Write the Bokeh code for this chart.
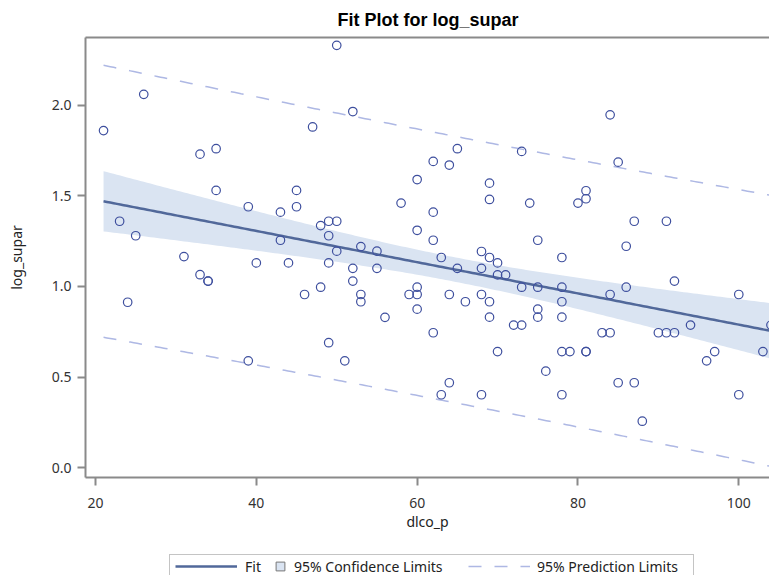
import numpy as np
from bokeh.plotting import figure
from bokeh.layouts import column
from bokeh.models import (ColumnDataSource, Range1d, FixedTicker, LinearAxis,
                          Legend, LegendItem, NumeralTickFormatter)
from bokeh.embed import file_html
from bokeh.resources import INLINE

# ---- data ----
dlco_p = [21, 26, 23, 25, 31, 33, 35, 35, 39, 43, 45, 45, 43, 47, 48, 49, 50, 49,
          33, 34, 34, 24, 40, 44, 49, 46, 48, 49, 39,
          50, 52, 65, 62, 64, 73, 60, 69, 69, 58, 74, 62, 60, 62, 75, 53, 55, 50,
          63, 68, 69, 70, 78, 84, 85, 81, 81, 80, 87, 91, 86,
          52, 55, 52, 53, 53, 56, 51, 65, 68, 70, 71, 73, 75, 78, 59, 60, 60, 60,
          64, 66, 68, 69, 69, 62, 72, 73, 75, 75, 78, 78, 70, 78, 79, 76, 64, 63,
          68, 78, 81, 81, 84, 86, 92, 83, 84, 90, 91, 92, 94, 100, 104, 103, 97,
          96, 85, 87, 88, 100]
log_supar = [1.86, 2.06, 1.36, 1.28, 1.165, 1.73, 1.76, 1.53, 1.44, 1.41, 1.53, 1.44,
             1.255, 1.88, 1.336, 1.36, 1.36, 1.28,
             1.065, 1.03, 1.03, 0.913, 1.13, 1.13, 1.13, 0.956, 0.996, 0.69, 0.59,
             2.33, 1.965, 1.76, 1.69, 1.67, 1.745, 1.59, 1.57, 1.48, 1.46, 1.46, 1.41,
             1.31, 1.255, 1.255, 1.22, 1.195, 1.195,
             1.16, 1.193, 1.16, 1.13, 1.16, 1.947, 1.686, 1.528, 1.484, 1.46, 1.36,
             1.36, 1.222,
             1.10, 1.10, 1.03, 0.956, 0.916, 0.83, 0.59, 1.10, 1.10, 1.064, 1.064,
             0.996, 0.996, 0.996, 0.956, 0.996, 0.956, 0.875,
             0.956, 0.916, 0.956, 0.916, 0.831, 0.745, 0.787, 0.787, 0.875, 0.831,
             0.916, 0.831, 0.641, 0.641, 0.641, 0.533, 0.469, 0.403,
             0.403, 0.403, 0.641, 0.641, 0.956, 0.996, 1.03, 0.745, 0.745, 0.745,
             0.745, 0.745, 0.787, 0.956, 0.787, 0.641, 0.641,
             0.590, 0.469, 0.469, 0.257, 0.403]
x_ticks = [20, 40, 60, 80, 100]
y_ticks = [0.0, 0.5, 1.0, 1.5, 2.0]
t_crit = 1.98  # two-sided 95% t quantile

# ---- least squares fit with 95% limits ----
x = np.array(dlco_p, float)
y = np.array(log_supar, float)
n = len(x)
xb = x.mean()
sxx = ((x - xb) ** 2).sum()
b1 = ((x - xb) * (y - y.mean())).sum() / sxx
b0 = y.mean() - b1 * xb
s = np.sqrt(((y - b0 - b1 * x) ** 2).sum() / (n - 2))
xg = np.linspace(x.min(), x.max(), 200)
yhat = b0 + b1 * xg
se_m = s * np.sqrt(1 / n + (xg - xb) ** 2 / sxx)
se_p = s * np.sqrt(1 + 1 / n + (xg - xb) ** 2 / sxx)
fit = ColumnDataSource(dict(x=xg, y=yhat, lcl=yhat - t_crit * se_m, ucl=yhat + t_crit * se_m,
                            lpl=yhat - t_crit * se_p, upl=yhat + t_crit * se_p))
pts = ColumnDataSource(dict(x=x, y=y))

FRAME = "#8a8a8a"
BAND = "#dae4f2"
FITC = "#51689a"
PRED = "#aeb8e4"
MARK = "#3e4f9e"

p = figure(width=769, height=548, output_backend="svg", toolbar_location=None,
           x_range=Range1d(18.756, 103.82), y_range=Range1d(-0.0535, 2.3734),
           min_border_left=85, min_border_right=0, min_border_top=37,
           min_border_bottom=71, x_axis_location=None, y_axis_location=None)
p.frame_align = False
p.grid.visible = False
p.outline_line_color = None
p.background_fill_color = "white"

p.varea(x="x", y1="lcl", y2="ucl", source=fit, fill_color=BAND)
p.line("x", "y", source=fit, line_color=FITC, line_width=2.5)
p.line("x", "upl", source=fit, line_color=PRED, line_width=1.5, line_dash="13 13")
p.line("x", "lpl", source=fit, line_color=PRED, line_width=1.5, line_dash="13 13")
p.scatter("x", "y", source=pts, marker="circle", size=8.5, fill_color=None,
          line_color=MARK, line_width=1.2)


def style_axis(ax):
    ax.axis_line_color = FRAME
    ax.axis_line_width = 2
    ax.major_tick_line_color = FRAME
    ax.major_tick_line_width = 2
    ax.major_tick_out = 8
    ax.major_tick_in = 0
    ax.minor_tick_line_color = None
    ax.major_label_text_font = "Noto Sans"
    ax.major_label_text_font_size = "14px"
    ax.major_label_text_color = "#333333"
    ax.axis_label_text_font = "Noto Sans"
    ax.axis_label_text_font_size = "14px"
    ax.axis_label_text_font_style = "normal"
    ax.axis_label_text_color = "#222222"


xa = LinearAxis(ticker=FixedTicker(ticks=x_ticks), axis_label="dlco_p")
style_axis(xa)
xa.major_label_standoff = 12
xa.axis_label_standoff = 1
p.add_layout(xa, "below")

ya = LinearAxis(ticker=FixedTicker(ticks=y_ticks), axis_label="log_supar",
                formatter=NumeralTickFormatter(format="0.0"))
style_axis(ya)
ya.major_label_standoff = 6
ya.axis_label_standoff = 23
p.add_layout(ya, "left")

ta = LinearAxis(ticker=FixedTicker(ticks=[]))
ta.axis_line_color = FRAME
ta.axis_line_width = 2
ta.major_tick_line_color = None
ta.minor_tick_line_color = None
p.add_layout(ta, "above")

p.title.text = "Fit Plot for log_supar"
p.title.align = "left"
p.title.offset = 252
p.title.text_font = "Liberation Sans"
p.title.text_font_style = "bold"
p.title.text_font_size = "18px"
p.title.text_color = "#000000"
p.title.standoff = 15

# ---- legend strip below the plot ----
lg_fig = figure(width=769, height=27, output_backend="svg", toolbar_location=None,
                x_range=Range1d(0, 1), y_range=Range1d(0, 1),
                min_border_left=0, min_border_right=0, min_border_top=0,
                min_border_bottom=0, x_axis_location=None, y_axis_location=None)
lg_fig.frame_align = False
lg_fig.grid.visible = False
lg_fig.outline_line_color = None

nan = float("nan")
fit_leg = lg_fig.line(x=[nan], y=[nan], line_color=FITC, line_width=2.5)
cl_leg = lg_fig.scatter(x=[nan], y=[nan], marker="square", fill_color=BAND,
                        line_color="#777777", line_width=1)
pl_leg = lg_fig.line(x=[nan], y=[nan], line_color=PRED, line_width=1.5, line_dash="13 13")
box_leg = lg_fig.line(x=[nan], y=[nan], line_alpha=0)

VY = -1


def mk_legend(items, vx, gw, standoff, vy=VY, gh=20, border=False, label_width=20):
    lg = Legend(items=items, location=(vx, vy), orientation="horizontal",
                glyph_width=gw, glyph_height=gh, label_height=20,
                label_standoff=standoff, label_width=label_width,
                padding=0, margin=0, spacing=0,
                label_text_font="Noto Sans", label_text_font_size="14px",
                label_text_color="#222222")
    if border:
        lg.border_line_color = FRAME
        lg.border_line_width = 1.5
        lg.background_fill_color = "white"
        lg.background_fill_alpha = 1
    else:
        lg.border_line_color = None
        lg.background_fill_alpha = 0
    lg_fig.add_layout(lg, "center")
    return lg


mk_legend([LegendItem(label=" ", renderers=[box_leg])], 169, 1, 0, border=True, label_width=522)
mk_legend([LegendItem(label="Fit", renderers=[fit_leg])], 175, 62, 8)
mk_legend([LegendItem(label="95% Confidence Limits", renderers=[cl_leg])], 269, 22, 3,
          vy=VY - 1, gh=22)
mk_legend([LegendItem(label="95% Prediction Limits", renderers=[pl_leg])], 468, 62, 7)

layout = column(p, lg_fig, spacing=0)
open("out.html", "w").write(file_html(layout, INLINE))
